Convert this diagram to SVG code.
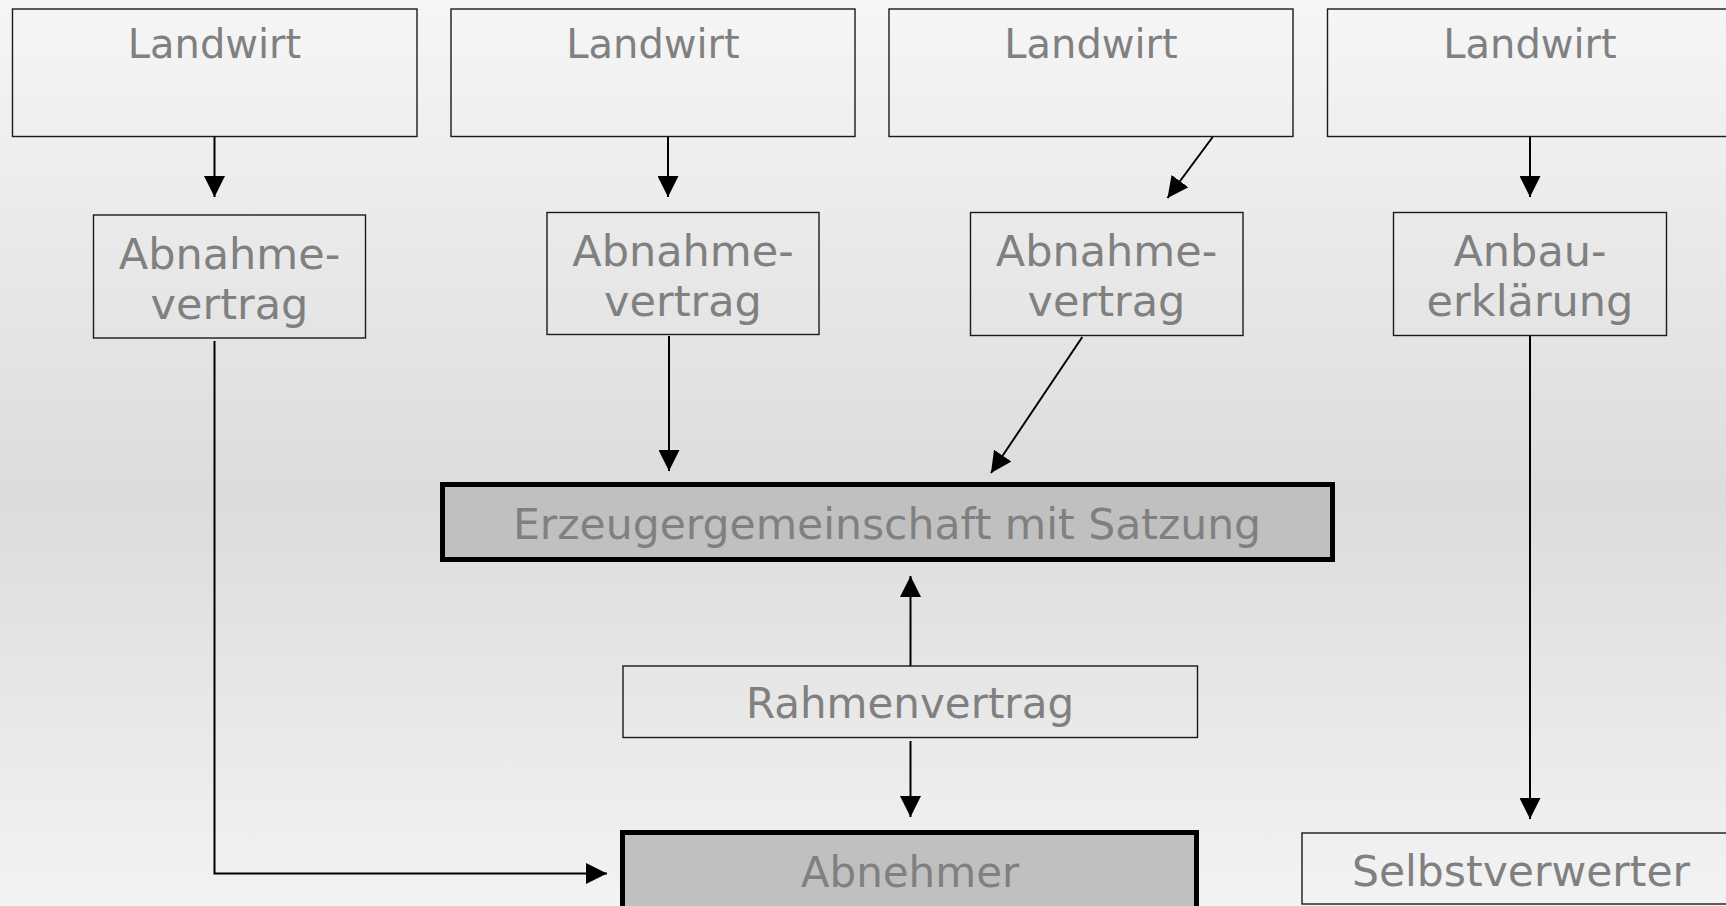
<svg xmlns="http://www.w3.org/2000/svg" width="1726" height="906" viewBox="0 0 1726 906">
<style>
.box{fill:none;stroke:#1a1a1a;stroke-width:1.4}
.main{fill:#c0c0c0;stroke:#000;stroke-width:5}
.t{font-family:"DejaVu Sans",Verdana,sans-serif;fill:#808080;text-anchor:middle}
.c{fill:none;stroke:#000;stroke-width:2;marker-end:url(#ah)}
</style>
<defs>
<linearGradient id="bg" x1="0" y1="0" x2="0" y2="1">
<stop offset="0" stop-color="#f6f6f6"/>
<stop offset="0.55" stop-color="#dcdcdc"/>
<stop offset="1" stop-color="#f3f3f3"/>
</linearGradient>
<marker id="ah" markerUnits="userSpaceOnUse" markerWidth="21" markerHeight="21" refX="21" refY="10.5" orient="auto">
<path d="M0,0 L21,10.5 L0,21 Z" fill="#000"/>
</marker>
</defs>
<rect x="0" y="0" width="1726" height="906" fill="url(#bg)"/>
<g id="connectors">
<line class="c" x1="214.5" y1="137" x2="214.5" y2="197"/>
<line class="c" x1="668" y1="137" x2="668" y2="197"/>
<line class="c" x1="1212.7" y1="137" x2="1167.5" y2="198"/>
<line class="c" x1="1530" y1="137" x2="1530" y2="197"/>
<path class="c" d="M214.5,341 V873.5 H607"/>
<line class="c" x1="669" y1="336" x2="669" y2="471"/>
<line class="c" x1="1082.3" y1="337" x2="991" y2="473"/>
<line class="c" x1="1530" y1="336" x2="1530" y2="819"/>
<line class="c" x1="910.5" y1="666" x2="910.5" y2="576"/>
<line class="c" x1="910.5" y1="741" x2="910.5" y2="817"/>
</g>
<g id="landwirt1"><rect class="box" x="12.5" y="9" width="404.5" height="127.5"/><text class="t" x="214.5" y="58" font-size="40">Landwirt</text></g>
<g id="landwirt2"><rect class="box" x="451" y="9" width="404" height="127.5"/><text class="t" x="653" y="58" font-size="40">Landwirt</text></g>
<g id="landwirt3"><rect class="box" x="889" y="9" width="404" height="127.5"/><text class="t" x="1091" y="58" font-size="40">Landwirt</text></g>
<g id="landwirt4"><rect class="box" x="1327.5" y="9" width="405" height="127.5"/><text class="t" x="1530" y="58" font-size="40">Landwirt</text></g>
<g id="abnahme1"><rect class="box" x="93.5" y="215" width="272" height="123"/><text class="t" x="229.5" y="268.5" font-size="43">Abnahme-</text><text class="t" x="229.5" y="318.5" font-size="43">vertrag</text></g>
<g id="abnahme2"><rect class="box" x="547" y="212.5" width="272" height="122"/><text class="t" x="683" y="266" font-size="43">Abnahme-</text><text class="t" x="683" y="316" font-size="43">vertrag</text></g>
<g id="abnahme3"><rect class="box" x="970.5" y="212.5" width="272.5" height="123"/><text class="t" x="1106.5" y="266" font-size="43">Abnahme-</text><text class="t" x="1106.5" y="316" font-size="43">vertrag</text></g>
<g id="anbau"><rect class="box" x="1393.5" y="212.5" width="273" height="123"/><text class="t" x="1530" y="266" font-size="43">Anbau-</text><text class="t" x="1530" y="316" font-size="43">erklärung</text></g>
<g id="erzeuger"><rect class="main" x="442.5" y="484.5" width="890" height="75"/><text class="t" x="887" y="539" font-size="42.5">Erzeugergemeinschaft mit Satzung</text></g>
<g id="rahmen"><rect class="box" x="623" y="666" width="574.5" height="71.5"/><text class="t" x="910" y="717.5" font-size="42">Rahmenvertrag</text></g>
<g id="abnehmer"><rect class="main" x="622.5" y="832.5" width="574" height="100"/><text class="t" x="910" y="886.5" font-size="42">Abnehmer</text></g>
<g id="selbst"><rect class="box" x="1302" y="833" width="440" height="71"/><text class="t" x="1521" y="886" font-size="42.5">Selbstverwerter</text></g>
</svg>
